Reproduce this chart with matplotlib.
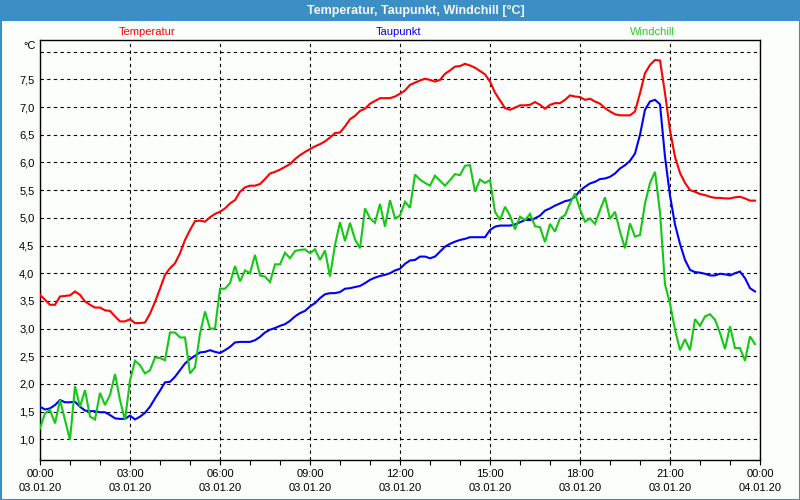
import numpy as np
import matplotlib
matplotlib.use("Agg")
import matplotlib.pyplot as plt
from matplotlib.patches import Rectangle
from matplotlib.ticker import MultipleLocator, FixedLocator

plt.rcParams['font.family'] = ['Liberation Sans', 'DejaVu Sans']
plt.rcParams['lines.scale_dashes'] = False

title = "Temperatur, Taupunkt, Windchill [°C]"
series_names = ["Temperatur", "Taupunkt", "Windchill"]
series_colors = ["#ff0000", "#0000ff", "#14c814"]
label_colors = ["#ff0000", "#0000ff", "#22d022"]

# 10-minute readings, 00:00 .. 23:50 on 03.01.20
temperatur = [
    3.61, 3.52, 3.43, 3.43, 3.58, 3.59, 3.60, 3.67, 3.61, 3.49, 3.43, 3.38, 3.38, 3.33, 3.32, 3.22, 3.13, 3.13, 3.17, 3.10, 3.10, 3.11, 3.27, 3.48,
    3.72, 3.97, 4.09, 4.18, 4.36, 4.60, 4.78, 4.94, 4.95, 4.93, 5.01, 5.07, 5.11, 5.17, 5.26, 5.32, 5.47, 5.55, 5.58, 5.58, 5.61, 5.70, 5.80, 5.83,
    5.87, 5.92, 5.97, 6.06, 6.13, 6.19, 6.24, 6.29, 6.33, 6.38, 6.45, 6.53, 6.54, 6.65, 6.78, 6.84, 6.93, 6.97, 7.06, 7.11, 7.16, 7.16, 7.16, 7.19,
    7.24, 7.30, 7.40, 7.44, 7.48, 7.51, 7.49, 7.46, 7.49, 7.60, 7.66, 7.73, 7.74, 7.78, 7.75, 7.71, 7.65, 7.59, 7.46, 7.26, 7.12, 6.98, 6.95, 6.99,
    7.03, 7.03, 7.04, 7.09, 7.04, 6.97, 7.04, 7.07, 7.07, 7.13, 7.21, 7.19, 7.18, 7.13, 7.15, 7.10, 7.06, 6.98, 6.92, 6.87, 6.85, 6.85, 6.85, 6.92,
    7.25, 7.61, 7.76, 7.85, 7.84, 7.25, 6.58, 6.10, 5.81, 5.63, 5.50, 5.47, 5.43, 5.41, 5.38, 5.36, 5.36, 5.35, 5.35, 5.37, 5.38, 5.35, 5.31, 5.31,
]
taupunkt = [
    1.59, 1.54, 1.56, 1.62, 1.71, 1.67, 1.67, 1.68, 1.59, 1.52, 1.51, 1.51, 1.49, 1.49, 1.44, 1.38, 1.37, 1.37, 1.43, 1.36, 1.41, 1.48, 1.59, 1.74,
    1.88, 2.03, 2.04, 2.13, 2.25, 2.37, 2.45, 2.51, 2.57, 2.58, 2.61, 2.58, 2.56, 2.61, 2.67, 2.75, 2.76, 2.76, 2.76, 2.79, 2.85, 2.93, 2.98, 3.01,
    3.05, 3.08, 3.14, 3.22, 3.28, 3.32, 3.40, 3.46, 3.55, 3.62, 3.64, 3.64, 3.66, 3.72, 3.73, 3.75, 3.77, 3.82, 3.88, 3.92, 3.95, 3.97, 4.00, 4.05,
    4.08, 4.17, 4.23, 4.24, 4.30, 4.30, 4.27, 4.30, 4.39, 4.48, 4.53, 4.57, 4.60, 4.62, 4.65, 4.65, 4.65, 4.65, 4.78, 4.84, 4.86, 4.86, 4.86, 4.88,
    4.92, 4.96, 4.96, 4.99, 5.04, 5.13, 5.17, 5.22, 5.26, 5.30, 5.32, 5.38, 5.49, 5.56, 5.62, 5.65, 5.70, 5.71, 5.74, 5.80, 5.89, 5.95, 6.03, 6.16,
    6.50, 6.95, 7.10, 7.13, 7.05, 6.10, 5.40, 4.88, 4.53, 4.24, 4.06, 4.02, 4.01, 3.99, 3.96, 3.96, 3.99, 3.98, 3.96, 4.00, 4.03, 3.91, 3.73, 3.67,
]
windchill = [
    1.20, 1.47, 1.53, 1.29, 1.71, 1.35, 0.99, 1.96, 1.59, 1.89, 1.41, 1.36, 1.84, 1.62, 1.80, 2.18, 1.71, 1.35, 2.06, 2.42, 2.34, 2.19, 2.25, 2.48,
    2.47, 2.43, 2.93, 2.93, 2.84, 2.84, 2.19, 2.30, 2.91, 3.31, 3.00, 3.00, 3.72, 3.72, 3.82, 4.13, 3.85, 4.05, 4.00, 4.33, 3.96, 3.94, 3.84, 4.16,
    4.16, 4.37, 4.27, 4.40, 4.42, 4.43, 4.36, 4.43, 4.24, 4.41, 3.94, 4.51, 4.92, 4.58, 4.91, 4.61, 4.45, 5.17, 4.99, 4.91, 5.25, 4.84, 5.32, 4.99,
    5.04, 5.29, 5.18, 5.78, 5.69, 5.63, 5.58, 5.76, 5.67, 5.58, 5.68, 5.79, 5.77, 5.94, 5.95, 5.47, 5.69, 5.63, 5.68, 5.11, 4.96, 5.20, 5.04, 4.79,
    5.02, 4.96, 5.07, 4.85, 4.83, 4.56, 4.89, 4.75, 4.99, 5.05, 5.26, 5.44, 5.15, 4.93, 4.99, 4.89, 5.14, 5.37, 4.98, 5.11, 4.75, 4.45, 4.90, 4.66,
    4.69, 5.26, 5.63, 5.83, 5.10, 3.80, 3.45, 2.98, 2.61, 2.81, 2.61, 3.17, 3.05, 3.22, 3.26, 3.16, 2.92, 2.63, 3.04, 2.65, 2.65, 2.42, 2.86, 2.72,
]
hours = np.arange(len(temperatur)) / 6.0

x_tick_hours = [0, 3, 6, 9, 12, 15, 18, 21, 24]
x_tick_times = ["00:00", "03:00", "06:00", "09:00", "12:00", "15:00", "18:00", "21:00", "00:00"]
x_tick_dates = ["03.01.20"] * 8 + ["04.01.20"]
y_ticks = [1.0, 1.5, 2.0, 2.5, 3.0, 3.5, 4.0, 4.5, 5.0, 5.5, 6.0, 6.5, 7.0, 7.5, 8.0]
y_unit = "°C"

W, H = 800, 500
fig = plt.figure(figsize=(8, 5), dpi=100)
bg = "#fcfefc"
bar = "#3c8fc4"
fig.patch.set_facecolor(bg)

# title bar and border
fig.add_artist(Rectangle((0, 1 - 21 / H), 1, 21 / H, transform=fig.transFigure,
                         facecolor=bar, edgecolor='none', zorder=0))
fig.add_artist(Rectangle((0.5 / W, 0.5 / H), 1 - 1 / W, 1 - 1 / H, transform=fig.transFigure,
                         facecolor='none', edgecolor=bar, linewidth=1.5, zorder=5))
fig.text(416 / W, 1 - 11 / H, title, color="#f4f8fc", fontsize=9, fontweight='bold',
         ha='center', va='center')

ax = fig.add_axes([40 / W, 40 / H, 720 / W, 420 / H])
ax.set_facecolor(bg)

for vals, col in zip([temperatur, taupunkt, windchill], series_colors):
    ax.plot(hours, vals, color=col, linewidth=1.5, zorder=3, solid_joinstyle='miter')

ax.set_xlim(0, 24)
ax.set_ylim(0.628, 8.21)

ax.xaxis.set_major_locator(FixedLocator(x_tick_hours))
ax.xaxis.set_minor_locator(MultipleLocator(1))
ax.set_xticklabels([f"{t}\n{d}" for t, d in zip(x_tick_times, x_tick_dates)],
                   linespacing=1.45)
ax.tick_params(axis='x', which='both', direction='out', length=3.5, width=0.8,
               pad=3, labelsize=8, colors='black')

ax.yaxis.set_major_locator(FixedLocator(y_ticks))
ax.set_yticklabels([("%.1f" % v).replace('.', ',') if v < 8 else "" for v in y_ticks])
ax.tick_params(axis='y', which='both', length=0, pad=4, labelsize=8)

ax.grid(True, which='major', color='black', linewidth=0.8, linestyle=(0, (2.4, 2.4)))
ax.set_axisbelow(True)
for s in ax.spines.values():
    s.set_color('black')
    s.set_linewidth(1.0)

fig.text(36 / W, 1 - 46 / H, y_unit, fontsize=8, ha='right', va='center')

legend_x = [147, 399, 652]
for name, col, xc in zip(series_names, label_colors, legend_x):
    fig.text(xc / W, 1 - 32 / H, name, color=col, fontsize=8, ha='center', va='center')

fig.savefig("out.png", dpi=100, facecolor=bg)
